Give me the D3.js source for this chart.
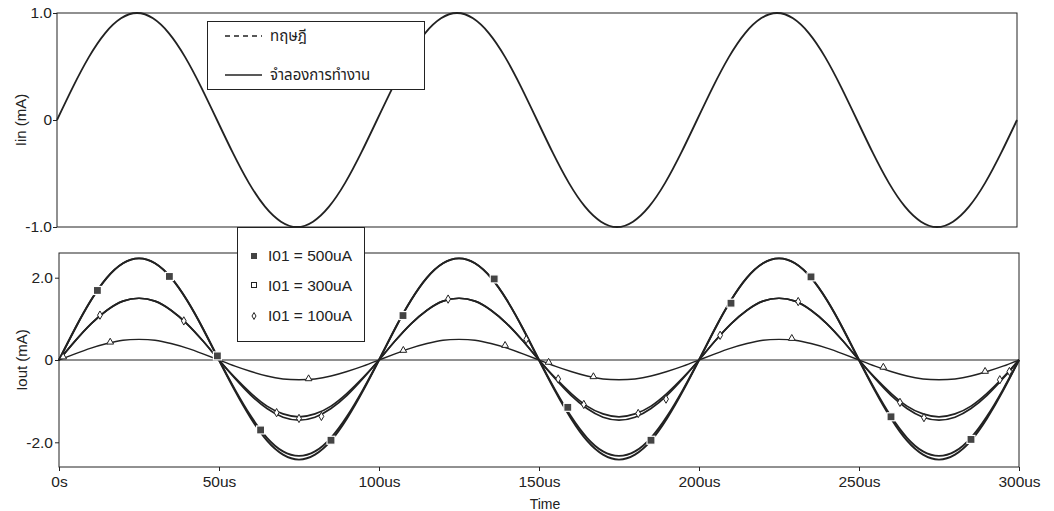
<!DOCTYPE html>
<html>
<head>
<meta charset="utf-8">
<script src="https://cdn.jsdelivr.net/npm/d3@7"></script>
<style>
  body { margin: 0; background: #fff; }
  text { font-family: "Liberation Sans", Arial, sans-serif; fill: #222; }
  .thai { font-family: "Noto Sans Thai", "Loma", "Garuda", "Tlwg Typo", "DejaVu Sans", sans-serif; }
</style>
</head>
<body>
<div id="chart"></div>
<script>
// time grid, 5us per sample
var timeUs = d3.range(0, 301, 5);

// Iin (mA)
var iin = [0,.31,.59,.81,.95,1,.95,.81,.59,.31,0,-.31,-.59,-.81,-.95,-1,-.95,-.81,-.59,-.31,
           0,.31,.59,.81,.95,1,.95,.81,.59,.31,0,-.31,-.59,-.81,-.95,-1,-.95,-.81,-.59,-.31,
           0,.31,.59,.81,.95,1,.95,.81,.59,.31,0,-.31,-.59,-.81,-.95,-1,-.95,-.81,-.59,-.31,0];

// Iout (mA)
var out500Theory = [0,.76,1.45,2.0,2.35,2.47,2.35,2.0,1.45,.76,0,-.75,-1.42,-1.96,-2.3,-2.42,-2.3,-1.96,-1.42,-.75,
                    0,.76,1.45,2.0,2.35,2.47,2.35,2.0,1.45,.76,0,-.75,-1.42,-1.96,-2.3,-2.42,-2.3,-1.96,-1.42,-.75,
                    0,.76,1.45,2.0,2.35,2.47,2.35,2.0,1.45,.76,0,-.75,-1.42,-1.96,-2.3,-2.42,-2.3,-1.96,-1.42,-.75,0];
var out500Sim = [0,.76,1.45,2.0,2.35,2.47,2.35,2.0,1.45,.76,0,-.72,-1.37,-1.89,-2.22,-2.33,-2.22,-1.89,-1.37,-.72,
                 0,.76,1.45,2.0,2.35,2.47,2.35,2.0,1.45,.76,0,-.72,-1.37,-1.89,-2.22,-2.33,-2.22,-1.89,-1.37,-.72,
                 0,.76,1.45,2.0,2.35,2.47,2.35,2.0,1.45,.76,0,-.72,-1.37,-1.89,-2.22,-2.33,-2.22,-1.89,-1.37,-.72,0];
var out300Theory = [0,.46,.88,1.21,1.43,1.5,1.43,1.21,.88,.46,0,-.45,-.86,-1.18,-1.39,-1.46,-1.39,-1.18,-.86,-.45,
                    0,.46,.88,1.21,1.43,1.5,1.43,1.21,.88,.46,0,-.45,-.86,-1.18,-1.39,-1.46,-1.39,-1.18,-.86,-.45,
                    0,.46,.88,1.21,1.43,1.5,1.43,1.21,.88,.46,0,-.45,-.86,-1.18,-1.39,-1.46,-1.39,-1.18,-.86,-.45,0];
var out300Sim = [0,.46,.88,1.21,1.43,1.5,1.43,1.21,.88,.46,0,-.43,-.81,-1.12,-1.31,-1.38,-1.31,-1.12,-.81,-.43,
                 0,.46,.88,1.21,1.43,1.5,1.43,1.21,.88,.46,0,-.43,-.81,-1.12,-1.31,-1.38,-1.31,-1.12,-.81,-.43,
                 0,.46,.88,1.21,1.43,1.5,1.43,1.21,.88,.46,0,-.43,-.81,-1.12,-1.31,-1.38,-1.31,-1.12,-.81,-.43,0];
var out100 = [0,.15,.29,.4,.48,.5,.48,.4,.29,.15,0,-.15,-.28,-.39,-.46,-.48,-.46,-.39,-.28,-.15,
              0,.15,.29,.4,.48,.5,.48,.4,.29,.15,0,-.15,-.28,-.39,-.46,-.48,-.46,-.39,-.28,-.15,
              0,.15,.29,.4,.48,.5,.48,.4,.29,.15,0,-.15,-.28,-.39,-.46,-.48,-.46,-.39,-.28,-.15,0];

// trace markers [time us, mA]
var marks500 = [[12,1.69],[34.5,2.03],[49.5,.1],[63,-1.7],[85,-1.95],[107.5,1.08],[136,1.97],
                [159,-1.15],[185,-1.95],[210,1.38],[235,2.02],[260,-1.38],[285,-1.93]];
var marks300 = [[12.8,1.09],[39,.95],[68,-1.28],[75,-1.42],[82,-1.37],[121.6,1.48],[146,.5],
                [156,-.46],[164,-1.08],[181,-1.3],[189.7,-.95],[206.6,.6],[231,1.42],
                [262.8,-1.03],[270.3,-1.4],[294,-.48],[297,-.28]];
var marks100 = [[1.3,.05],[16,.41],[78,-.48],[107.6,.21],[139.4,.33],[153,-.08],[167,-.43],
                [229,.5],[257.6,-.2],[289.4,-.3]];

var xTicks = [0, 50, 100, 150, 200, 250, 300];
var iinTicks = [-1, 0, 1];
var ioutTicks = [-2, 0, 2];
var legendTop = ["ทฤษฎี", "จำลองการทำงาน"];
var legendBottom = ["I01 = 500uA", "I01 = 300uA", "I01 = 100uA"];

var svg = d3.select("#chart").append("svg")
    .attr("width", 1054)
    .attr("height", 511);

var ink = "#222";

var xTop = d3.scaleLinear().domain([0, 300]).range([57, 1017]);
var yTop = d3.scaleLinear().domain([-1, 1]).range([227, 13]);
var xBot = d3.scaleLinear().domain([0, 300]).range([59, 1019]);
var yBot = d3.scaleLinear().domain([-2.6, 2.6]).range([467, 253]);

function fmtY(d) { return d === 0 ? "0" : d.toFixed(1); }

// ---- top panel
svg.append("rect")
    .attr("x", xTop(0)).attr("y", yTop(1))
    .attr("width", xTop(300) - xTop(0)).attr("height", yTop(-1) - yTop(1))
    .attr("fill", "none").attr("stroke", ink).attr("stroke-width", 1);

var topAxis = svg.append("g")
    .attr("transform", `translate(${xTop(0)},0)`)
    .call(d3.axisLeft(yTop).tickValues(iinTicks).tickFormat(fmtY).tickSize(4).tickPadding(1));
topAxis.select(".domain").remove();

var lineTop = d3.line()
    .x((d, i) => xTop(timeUs[i]))
    .y(d => yTop(d))
    .curve(d3.curveNatural);

svg.append("path")
    .datum(iin)
    .attr("d", lineTop)
    .attr("fill", "none").attr("stroke", ink).attr("stroke-width", 1.8);

svg.append("text")
    .attr("transform", `translate(26, ${yTop(0)}) rotate(-90)`)
    .attr("text-anchor", "middle")
    .attr("font-size", 15)
    .text("Iin (mA)");

// ---- bottom panel
svg.append("rect")
    .attr("x", xBot(0)).attr("y", yBot(2.6))
    .attr("width", xBot(300) - xBot(0)).attr("height", yBot(-2.6) - yBot(2.6))
    .attr("fill", "none").attr("stroke", ink).attr("stroke-width", 1);

svg.append("line")
    .attr("x1", xBot(0)).attr("x2", xBot(300))
    .attr("y1", yBot(0)).attr("y2", yBot(0))
    .attr("stroke", ink).attr("stroke-width", 1.2);

var botYAxis = svg.append("g")
    .attr("transform", `translate(${xBot(0)},0)`)
    .call(d3.axisLeft(yBot).tickValues(ioutTicks).tickFormat(fmtY).tickSize(4).tickPadding(2));
botYAxis.select(".domain").remove();

var botXAxis = svg.append("g")
    .attr("transform", `translate(0,${yBot(-2.6)})`)
    .call(d3.axisBottom(xBot).tickValues(xTicks)
        .tickFormat(d => d === 0 ? "0s" : d + "us").tickSize(4).tickPadding(5));
botXAxis.select(".domain").remove();

svg.selectAll(".tick text").attr("font-size", 15.5).attr("fill", ink)
    .style("font-family", "'Liberation Sans', Arial, sans-serif");
svg.selectAll(".tick line").attr("stroke", ink);

svg.append("text")
    .attr("x", (xBot(0) + xBot(300)) / 2 + 6)
    .attr("y", 509)
    .attr("text-anchor", "middle")
    .attr("font-size", 14)
    .text("Time");

svg.append("text")
    .attr("transform", `translate(27, ${yBot(0)}) rotate(-90)`)
    .attr("text-anchor", "middle")
    .attr("font-size", 15)
    .text("Iout (mA)");

var lineBot = d3.line()
    .x((d, i) => xBot(timeUs[i]))
    .y(d => yBot(d))
    .curve(d3.curveNatural);

var traces = [
  { data: out100, w: 1.4 },
  { data: out300Theory, w: 1.7 },
  { data: out300Sim, w: 1.7 },
  { data: out500Theory, w: 1.9 },
  { data: out500Sim, w: 1.9 }
];

svg.selectAll(".trace")
    .data(traces)
    .enter()
    .append("path")
    .attr("class", "trace")
    .attr("d", d => lineBot(d.data))
    .attr("fill", "none")
    .attr("stroke", ink)
    .attr("stroke-width", d => d.w);

// markers
svg.selectAll(".m500")
    .data(marks500)
    .enter()
    .append("rect")
    .attr("x", d => xBot(d[0]) - 4).attr("y", d => yBot(d[1]) - 4)
    .attr("width", 8).attr("height", 8)
    .attr("fill", "#444").attr("stroke", "#fff").attr("stroke-width", 1.2);

svg.selectAll(".m300")
    .data(marks300)
    .enter()
    .append("path")
    .attr("d", d3.symbol(d3.symbolDiamond, 20))
    .attr("transform", d => `translate(${xBot(d[0])},${yBot(d[1])})`)
    .attr("fill", "#fff").attr("stroke", ink).attr("stroke-width", 1);

svg.selectAll(".m100")
    .data(marks100)
    .enter()
    .append("path")
    .attr("d", d3.symbol(d3.symbolTriangle, 20))
    .attr("transform", d => `translate(${xBot(d[0])},${yBot(d[1]) - 1})`)
    .attr("fill", "#fff").attr("stroke", ink).attr("stroke-width", 1);

// ---- legend (top)
var legT = svg.append("g");
legT.append("rect")
    .attr("x", 207.5).attr("y", 21.5).attr("width", 217).attr("height", 68)
    .attr("fill", "#fff").attr("stroke", ink).attr("stroke-width", 1);
legT.append("line")
    .attr("x1", 225).attr("x2", 262).attr("y1", 36).attr("y2", 36)
    .attr("stroke", ink).attr("stroke-width", 1.3).attr("stroke-dasharray", "5,4");
legT.append("line")
    .attr("x1", 225).attr("x2", 262).attr("y1", 75).attr("y2", 75)
    .attr("stroke", ink).attr("stroke-width", 1.5);
legT.selectAll(".lt")
    .data(legendTop)
    .enter()
    .append("text")
    .attr("class", "thai")
    .attr("x", 270)
    .attr("y", (d, i) => 41 + i * 39)
    .attr("font-size", 15)
    .text(d => d);

// ---- legend (bottom)
var legB = svg.append("g");
legB.append("rect")
    .attr("x", 237.5).attr("y", 227.5).attr("width", 127).attr("height", 114)
    .attr("fill", "#fff").attr("stroke", ink).attr("stroke-width", 1);
legB.append("rect")
    .attr("x", 251).attr("y", 253).attr("width", 6).attr("height", 6).attr("fill", "#444");
legB.append("rect")
    .attr("x", 251.5).attr("y", 282.5).attr("width", 5).attr("height", 5)
    .attr("fill", "#fff").attr("stroke", ink).attr("stroke-width", 1);
legB.append("path")
    .attr("d", d3.symbol(d3.symbolDiamond, 14))
    .attr("transform", "translate(254,316)")
    .attr("fill", "#fff").attr("stroke", ink).attr("stroke-width", 1);
legB.selectAll(".lb")
    .data(legendBottom)
    .enter()
    .append("text")
    .attr("x", 268)
    .attr("y", (d, i) => 261 + i * 30)
    .attr("font-size", 15.5)
    .text(d => d);
</script>
</body>
</html>
